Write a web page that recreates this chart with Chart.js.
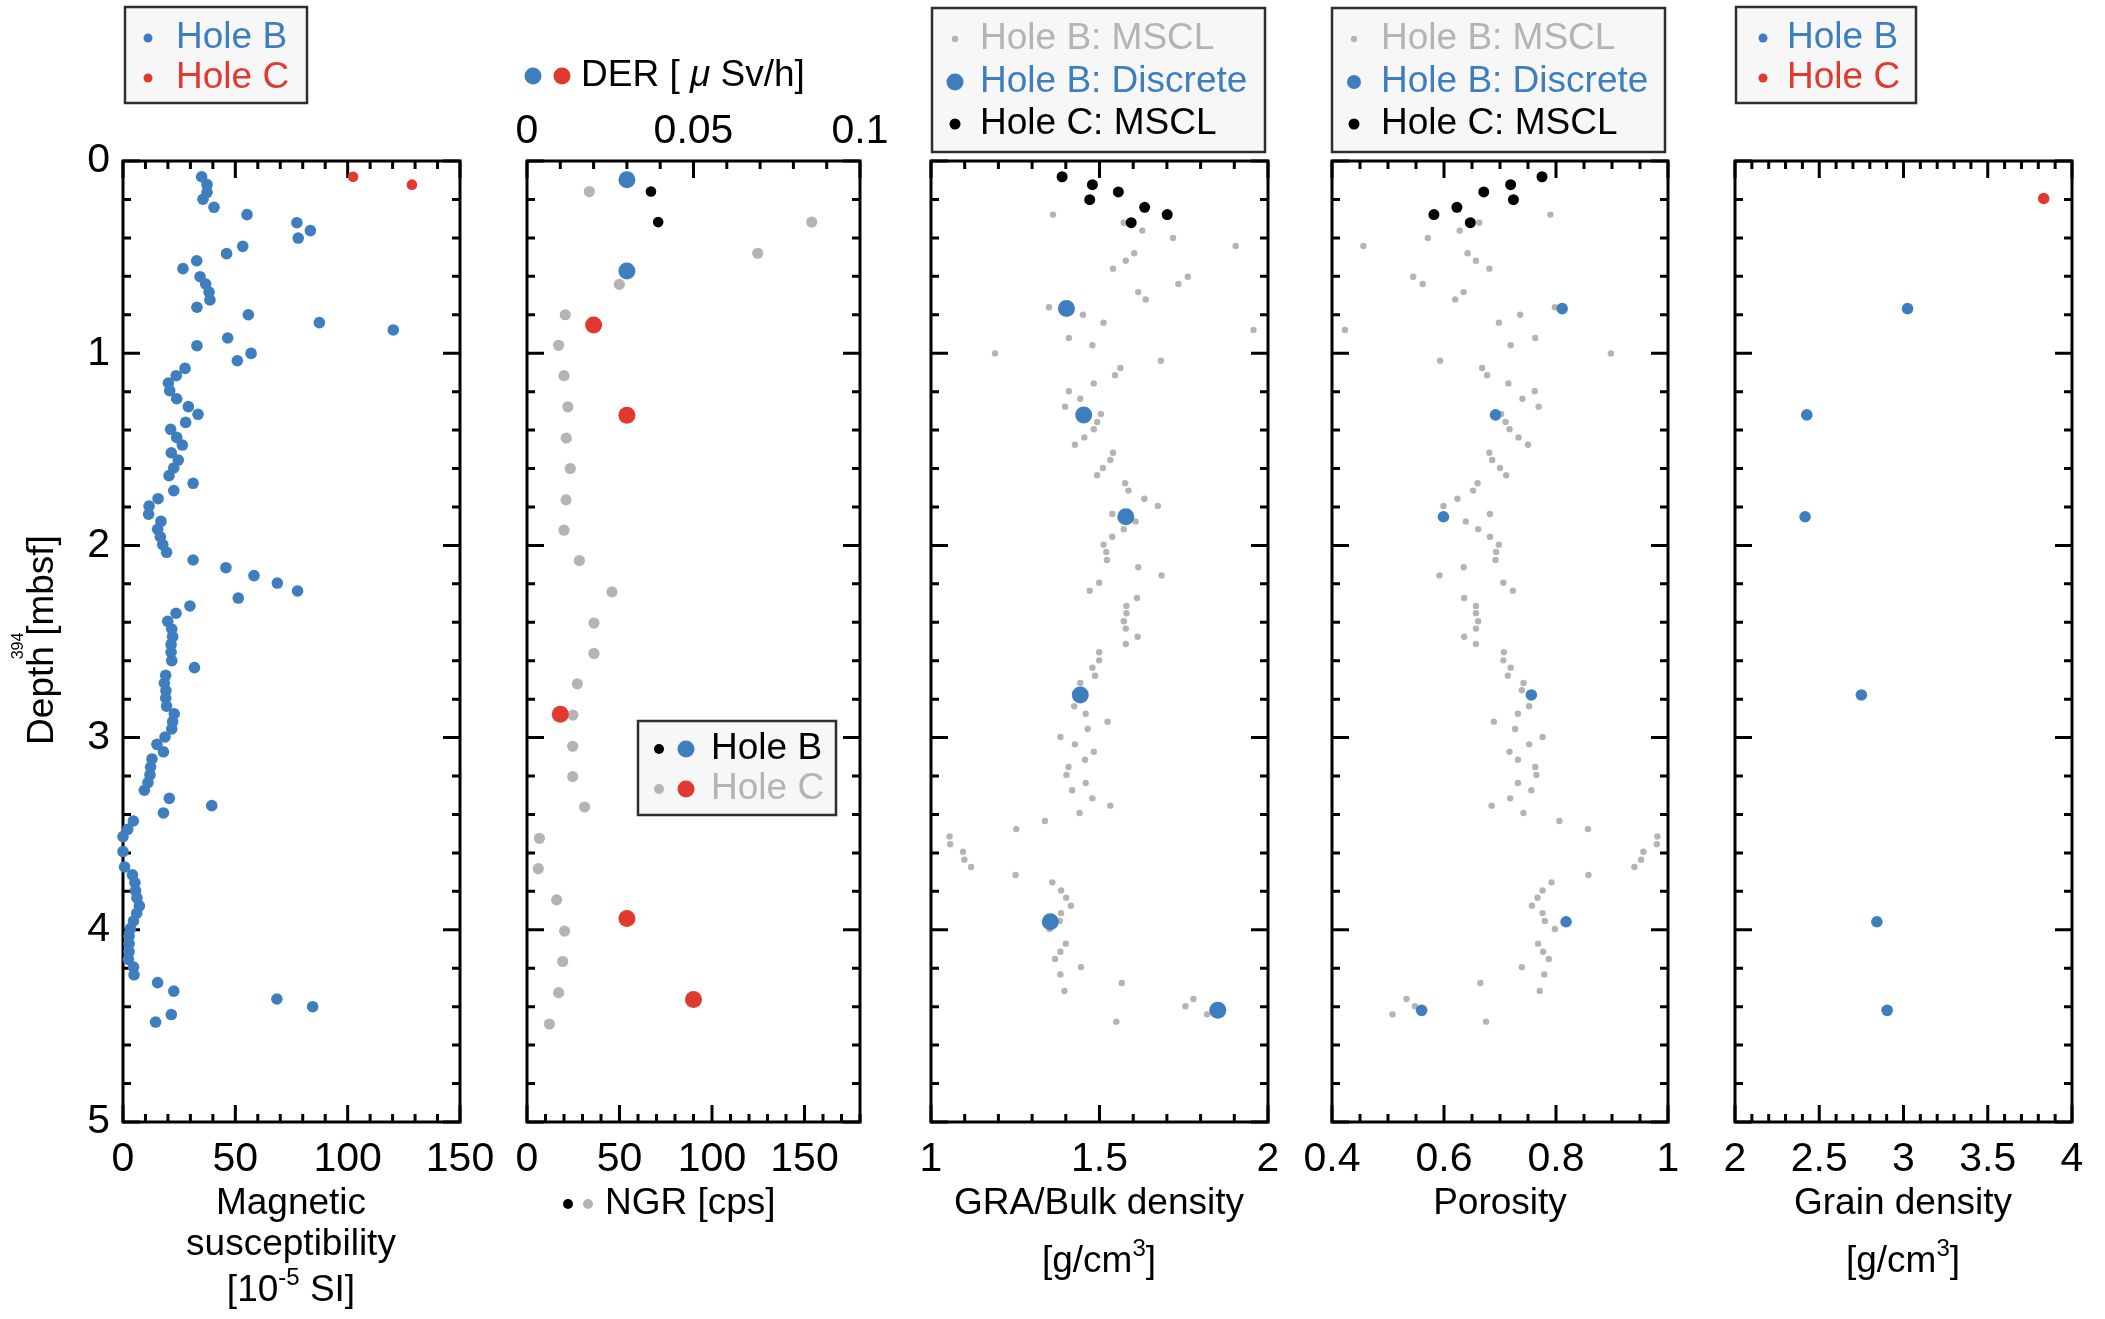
<!DOCTYPE html>
<html>
<head>
<meta charset="utf-8">
<script src="https://cdn.jsdelivr.net/npm/chart.js@4.4.1/dist/chart.umd.min.js"></script>
<style>
  html, body { margin: 0; padding: 0; background: #ffffff; }
  #wrap { position: relative; width: 2105px; height: 1319px; overflow: hidden; background: #ffffff; }
  #wrap canvas { position: absolute; left: 0; top: 0; }
</style>
</head>
<body>
<div id="wrap"></div>
<script>
// ---------- depth axis ----------
const depthTicks = [0, 1, 2, 3, 4, 5];
const depthTickLabels = ['0', '1', '2', '3', '4', '5'];

// ---------- magnetic susceptibility [1e-5 SI] ----------
const magDepthB = [0.082,0.123,0.163,0.199,0.241,0.279,0.321,0.362,0.401,0.444,
  0.482,0.519,0.560,0.602,0.640,0.682,0.723,0.761,0.800,0.841,
  0.879,0.921,0.961,1.001,1.039,1.079,1.117,1.155,1.195,1.237,
  1.278,1.318,1.360,1.396,1.438,1.478,1.518,1.556,1.597,1.637,
  1.677,1.715,1.757,1.795,1.838,1.875,1.916,1.955,1.996,2.036,
  2.076,2.116,2.157,2.196,2.237,2.274,2.315,2.353,2.395,2.435,
  2.475,2.515,2.556,2.600,2.636,2.676,2.716,2.756,2.794,2.836,
  2.876,2.917,2.955,2.997,3.035,3.074,3.111,3.153,3.194,3.234,
  3.274,3.316,3.354,3.392,3.434,3.477,3.515,3.593,3.673,3.714,
  3.754,3.796,3.834,3.875,3.914,3.954,3.994,4.032,4.072,4.114,
  4.154,4.194,4.234,4.275,4.319,4.360,4.400,4.441,4.480];
const magB = [35.0,37.4,37.4,35.6,40.5,55.2,77.4,83.4,78.0,53.3,
  46.1,32.8,26.7,34.3,36.8,38.3,38.7,32.9,55.8,87.4,
  120.3,46.6,32.9,57.0,50.9,27.6,23.7,20.2,20.8,23.9,
  29.1,33.4,27.9,21.2,23.9,26.4,21.5,24.6,22.6,20.5,
  31.2,22.6,15.6,11.6,11.4,16.9,15.4,16.6,17.7,19.4,
  31.2,45.8,58.3,68.7,77.7,51.3,29.8,23.6,19.9,21.7,
  22.1,21.4,21.4,21.7,31.8,19.0,18.4,19.1,19.0,19.4,
  22.8,22.1,21.7,18.7,15.1,18.0,12.9,12.3,12.0,11.1,
  9.5,20.6,39.5,18.0,4.6,2.1,0.0,0.0,0.7,4.2,
  5.3,5.6,6.2,7.3,6.1,4.7,3.3,2.7,2.7,2.7,
  2.4,4.7,4.9,15.4,22.6,68.5,84.4,21.5,14.5];
const magDepthC = [0.082, 0.123];
const magC = [102.4, 128.6];
const magTicks = [0, 50, 100, 150];
const magTickLabels = ['0', '50', '100', '150'];

// ---------- NGR [cps] and DER [uSv/h] ----------
const ngrDepthB = [0.159, 0.318];
const ngrB = [67.0, 70.9];
const ngrDepthC = [0.159,0.318,0.480,0.642,0.800,0.959,1.117,1.279,1.442,1.600,
  1.763,1.921,2.079,2.242,2.404,2.562,2.720,2.883,3.045,3.203,
  3.361,3.524,3.682,3.844,4.007,4.165,4.327,4.490];
const ngrC = [33.7,153.9,124.7,49.9,20.7,17.1,20.0,22.1,21.2,23.4,
  21.1,20.0,28.3,45.9,36.2,36.2,27.2,24.8,24.7,24.7,
  31.1,6.7,6.1,16.0,20.3,19.3,17.1,12.1];
const derDepthB = [0.098, 0.572];
const derB = [0.030, 0.030];
const derDepthC = [0.853, 1.323, 2.878, 3.941, 4.363];
const derC = [0.020, 0.030, 0.010, 0.030, 0.050];
const ngrTicks = [0, 50, 100, 150];
const ngrTickLabels = ['0', '50', '100', '150'];
const derTicks = [0, 0.05, 0.1];
const derTickLabels = ['0', '0.05', '0.1'];

// ---------- MSCL (Hole B) GRA density and porosity ----------
const msclDepthB = [0.279,0.321,0.362,0.401,0.442,0.480,0.519,0.560,0.602,0.640,
  0.682,0.720,0.761,0.800,0.841,0.879,0.921,0.959,1.001,1.039,
  1.077,1.115,1.157,1.198,1.237,1.278,1.316,1.358,1.396,1.438,
  1.476,1.518,1.556,1.597,1.635,1.677,1.715,1.757,1.795,1.837,
  1.875,1.916,1.955,1.996,2.034,2.076,2.114,2.156,2.194,2.236,
  2.274,2.315,2.353,2.395,2.433,2.475,2.513,2.556,2.598,2.636,
  2.678,2.716,2.754,2.837,2.876,2.917,2.955,2.997,3.035,3.074,
  3.115,3.153,3.194,3.236,3.274,3.316,3.354,3.392,3.434,3.476,
  3.514,3.555,3.594,3.635,3.673,3.715,3.753,3.795,3.833,3.875,
  3.913,3.954,3.996,4.072,4.114,4.152,4.194,4.232,4.277,4.318,
  4.360,4.398,4.440,4.478];
const graB = [1.362,1.572,1.627,1.718,1.904,1.603,1.578,1.540,1.762,1.734,
  1.615,1.637,1.350,1.451,1.512,1.957,1.409,1.479,1.190,1.682,
  1.562,1.546,1.483,1.409,1.443,1.398,1.504,1.493,1.483,1.455,
  1.427,1.540,1.532,1.510,1.493,1.576,1.586,1.633,1.673,1.538,
  1.607,1.572,1.538,1.512,1.520,1.522,1.615,1.684,1.499,1.471,
  1.611,1.580,1.580,1.572,1.578,1.613,1.578,1.499,1.499,1.479,
  1.487,1.443,1.447,1.425,1.459,1.524,1.465,1.384,1.427,1.483,
  1.457,1.408,1.402,1.459,1.419,1.479,1.532,1.441,1.338,1.253,
  1.055,1.057,1.095,1.099,1.119,1.251,1.360,1.386,1.401,1.415,
  1.386,1.382,1.352,1.400,1.384,1.368,1.445,1.384,1.566,1.396,
  1.779,1.755,1.819,1.550];
const porB = [0.790,0.663,0.628,0.571,0.456,0.642,0.657,0.681,0.545,0.562,
  0.635,0.620,0.798,0.736,0.698,0.423,0.763,0.719,0.898,0.593,
  0.668,0.677,0.715,0.762,0.740,0.769,0.702,0.710,0.717,0.733,
  0.750,0.681,0.686,0.700,0.711,0.660,0.652,0.624,0.599,0.682,
  0.639,0.661,0.682,0.698,0.693,0.692,0.635,0.592,0.706,0.723,
  0.636,0.657,0.657,0.661,0.657,0.636,0.657,0.707,0.706,0.719,
  0.714,0.742,0.739,0.752,0.732,0.689,0.727,0.776,0.752,0.717,
  0.732,0.763,0.765,0.732,0.756,0.718,0.685,0.742,0.806,0.857,
  0.981,0.980,0.956,0.952,0.940,0.858,0.792,0.776,0.767,0.757,
  0.776,0.780,0.798,0.768,0.777,0.787,0.739,0.779,0.665,0.771,
  0.533,0.548,0.508,0.675];

// ---------- MSCL (Hole C) ----------
const msclDepthC = [0.082, 0.123, 0.161, 0.201, 0.241, 0.279, 0.321];
const graC = [1.389, 1.479, 1.556, 1.471, 1.634, 1.701, 1.594];
const porC = [0.775, 0.719, 0.671, 0.724, 0.623, 0.582, 0.647];

// ---------- discrete samples (Hole B) ----------
const discDepthB = [0.768, 1.321, 1.851, 2.778, 3.958, 4.419];
const bulkDiscB = [1.402, 1.453, 1.578, 1.443, 1.354, 1.851];
const porDiscB = [0.811, 0.692, 0.599, 0.756, 0.818, 0.560];
const grainB = [3.024, 2.426, 2.416, 2.750, 2.842, 2.903];
const grainDepthC = [0.195];
const grainC = [3.832];

const densTicks = [1, 1.5, 2];
const densTickLabels = ['1', '1.5', '2'];
const porTicks = [0.4, 0.6, 0.8, 1];
const porTickLabels = ['0.4', '0.6', '0.8', '1'];
const grainTicks = [2, 2.5, 3, 3.5, 4];
const grainTickLabels = ['2', '2.5', '3', '3.5', '4'];

// ---------- styling ----------
const FONT = "'Liberation Sans', Arial, Helvetica, sans-serif";
const BLUE = '#3e7ebf';
const RED = '#e1382f';
const GREY = '#b4b4b4';
const BLACK = '#000000';
const W = 2105, H = 1319;
const PLOT_TOP = 161, PLOT_BOTTOM = 1122;
const BOTTOM_AXIS_H = 80, TOP_AXIS_H = 70, LEFT_AXIS_W = 100;

function pts(depths, values) {
  return values.map((v, i) => ({ x: v, y: depths[i] }));
}

function series(depths, values, color, radius, axisId) {
  return {
    data: pts(depths, values),
    xAxisID: axisId || 'x',
    yAxisID: 'y',
    showLine: false,
    clip: false,
    pointStyle: 'circle',
    pointRadius: radius,
    pointHoverRadius: radius,
    pointBackgroundColor: color,
    pointBorderWidth: 0,
    pointBorderColor: color
  };
}

function fixedTicks(values) {
  return scale => { scale.ticks = values.map(v => ({ value: v })); };
}

function axisX(o) {
  const top = o.position === 'top';
  return {
    type: 'linear',
    position: top ? 'top' : 'bottom',
    min: o.min,
    max: o.max,
    grid: { display: false, drawTicks: false },
    border: { display: false },
    afterBuildTicks: fixedTicks(o.ticks),
    afterFit: scale => { scale.height = top ? TOP_AXIS_H : BOTTOM_AXIS_H; },
    ticks: {
      display: true, autoSkip: false, maxRotation: 0, minRotation: 0,
      padding: o.pad, color: '#000',
      font: { family: FONT, size: 41 },
      callback: (v, i) => o.labels[i]
    }
  };
}

function axisY(show) {
  return {
    type: 'linear', reverse: true, min: 0, max: 5,
    grid: { display: false, drawTicks: false },
    border: { display: false },
    afterBuildTicks: fixedTicks(depthTicks),
    afterFit: scale => { scale.width = show ? LEFT_AXIS_W : 0; },
    ticks: {
      display: show, autoSkip: false, padding: 13, color: '#000',
      font: { family: FONT, size: 41 },
      callback: (v, i) => depthTickLabels[i]
    }
  };
}

// frame with inward major/minor ticks on all four sides
function framePlugin(spec) {
  return {
    id: 'frame',
    beforeDatasetsDraw(chart) {
      const ctx = chart.ctx, a = chart.chartArea, ys = chart.scales.y;
      ctx.save();
      ctx.strokeStyle = '#000';
      ctx.lineWidth = 3;
      ctx.lineCap = 'butt';
      ctx.beginPath();
      for (let k = 0; k <= 25; k++) {
        const py = ys.getPixelForValue(k * 0.2);
        const len = k % 5 === 0 ? 17 : 8;
        ctx.moveTo(a.left, py); ctx.lineTo(a.left + len, py);
        ctx.moveTo(a.right, py); ctx.lineTo(a.right - len, py);
      }
      const sides = [[spec.bottom, a.bottom, -1], [spec.top, a.top, 1]];
      sides.forEach(([s, edge, dir]) => {
        const sc = chart.scales[s.id];
        const n = Math.round((s.max - s.min) / s.minor);
        for (let k = 0; k <= n; k++) {
          const v = s.min + k * s.minor;
          const q = v / s.major;
          const major = Math.abs(q - Math.round(q)) < 1e-6;
          const px = sc.getPixelForValue(v);
          ctx.moveTo(px, edge); ctx.lineTo(px, edge + dir * (major ? 17 : 8));
        }
      });
      ctx.stroke();
      ctx.strokeRect(a.left, a.top, a.right - a.left, a.bottom - a.top);
      ctx.restore();
    }
  };
}

function decoPlugin(draw) {
  return { id: 'deco', afterDraw(chart) { const ctx = chart.ctx; ctx.save(); draw(ctx); ctx.restore(); } };
}

// ---------- drawing helpers for legends and titles ----------
function dot(ctx, x, y, r, color) {
  ctx.beginPath(); ctx.arc(x, y, r, 0, Math.PI * 2); ctx.fillStyle = color; ctx.fill();
}
function box(ctx, x, y, w, h) {
  ctx.fillStyle = '#f7f7f7'; ctx.fillRect(x, y, w, h);
  ctx.strokeStyle = '#2e2e2e'; ctx.lineWidth = 2.5; ctx.strokeRect(x, y, w, h);
}
function runs(ctx, parts, x, y, align, color) {
  ctx.textBaseline = 'middle'; ctx.textAlign = 'left'; ctx.fillStyle = color || '#000';
  const fontOf = p => (p.italic ? 'italic ' : '') + (p.size || 37) + 'px ' + FONT;
  let total = 0;
  parts.forEach(p => { ctx.font = fontOf(p); total += ctx.measureText(p.t).width; });
  let cx = align === 'center' ? x - total / 2 : x;
  parts.forEach(p => {
    ctx.font = fontOf(p);
    ctx.fillText(p.t, cx, y + (p.dy || 0));
    cx += ctx.measureText(p.t).width;
  });
}
function txt(ctx, s, x, y, align, color) { runs(ctx, [{ t: s }], x, y, align, color); }

// ---------- build the five panels ----------
const wrap = document.getElementById('wrap');
function makeChart(geom, datasets, scales, spec, draw) {
  const cv = document.createElement('canvas');
  cv.width = W; cv.height = H;
  cv.style.width = W + 'px'; cv.style.height = H + 'px';
  wrap.appendChild(cv);
  const leftW = geom.leftAxis ? LEFT_AXIS_W : 0;
  const topH = geom.topAxis ? TOP_AXIS_H : 0;
  return new Chart(cv, {
    type: 'scatter',
    data: { datasets },
    options: {
      responsive: false, animation: false, devicePixelRatio: 1, events: [],
      layout: { padding: {
        left: geom.left - leftW,
        right: W - geom.right,
        top: PLOT_TOP - topH,
        bottom: H - PLOT_BOTTOM - BOTTOM_AXIS_H } },
      plugins: { legend: { display: false }, tooltip: { enabled: false } },
      scales
    },
    plugins: [framePlugin(spec), decoPlugin(draw)]
  });
}

// Panel 1: magnetic susceptibility
makeChart({ left: 123, right: 460, leftAxis: true },
  [series(magDepthC, magC, RED, 5.3), series(magDepthB, magB, BLUE, 5.8)],
  { x: axisX({ min: 0, max: 150, ticks: magTicks, labels: magTickLabels, pad: 13 }), y: axisY(true) },
  { bottom: { id: 'x', min: 0, max: 150, minor: 10, major: 50 }, top: { id: 'x', min: 0, max: 150, minor: 10, major: 50 } },
  ctx => {
    box(ctx, 125, 7, 182, 96);
    dot(ctx, 148, 38, 4.5, BLUE); txt(ctx, 'Hole B', 176, 38, 'left', BLUE);
    dot(ctx, 148, 78, 4.5, RED); txt(ctx, 'Hole C', 176, 78, 'left', RED);
    txt(ctx, 'Magnetic', 291, 1204, 'center');
    txt(ctx, 'susceptibility', 291, 1245, 'center');
    runs(ctx, [{ t: '[10' }, { t: '-5', size: 24, dy: -13 }, { t: ' SI]' }], 291, 1291, 'center');
    // depth axis title
    ctx.save();
    ctx.translate(43, 640); ctx.rotate(-Math.PI / 2);
    txt(ctx, 'Depth [mbsf]', 0, 0, 'center');
    ctx.restore();
    ctx.save();
    ctx.translate(19, 646); ctx.rotate(-Math.PI / 2);
    runs(ctx, [{ t: '394', size: 16 }], 0, 0, 'center');
    ctx.restore();
  });

// Panel 2: NGR (bottom axis) and DER (top axis)
makeChart({ left: 527, right: 860, topAxis: true },
  [series(derDepthC, derC, RED, 8.5, 'x2'), series(derDepthB, derB, BLUE, 8.5, 'x2'),
   series(ngrDepthB, ngrB, BLACK, 5.3), series(ngrDepthC, ngrC, GREY, 5.6)],
  { x: axisX({ min: 0, max: 180, ticks: ngrTicks, labels: ngrTickLabels, pad: 13 }),
    x2: axisX({ min: 0, max: 0.1, ticks: derTicks, labels: derTickLabels, pad: 5, position: 'top' }),
    y: axisY(false) },
  { bottom: { id: 'x', min: 0, max: 180, minor: 10, major: 50 }, top: { id: 'x2', min: 0, max: 0.1, minor: 0.01, major: 0.05 } },
  ctx => {
    dot(ctx, 533, 76, 8.5, BLUE); dot(ctx, 562, 76, 8.5, RED);
    runs(ctx, [{ t: 'DER [ ' }, { t: 'μ', italic: true }, { t: ' Sv/h]' }], 581, 76, 'left');
    dot(ctx, 568, 1204, 5, BLACK); dot(ctx, 588, 1204, 5, GREY);
    txt(ctx, 'NGR [cps]', 605, 1204, 'left');
    box(ctx, 638, 721, 198, 94);
    dot(ctx, 659, 749, 5, BLACK); dot(ctx, 686, 749, 8.5, BLUE); txt(ctx, 'Hole B', 711, 749, 'left', BLACK);
    dot(ctx, 659, 789, 5, GREY); dot(ctx, 686, 789, 8.5, RED); txt(ctx, 'Hole C', 711, 789, 'left', GREY);
  });

// Panel 3: GRA / bulk density
makeChart({ left: 931, right: 1268 },
  [series(msclDepthC, graC, BLACK, 5.5), series(discDepthB, bulkDiscB, BLUE, 8.5), series(msclDepthB, graB, GREY, 3.2)],
  { x: axisX({ min: 1, max: 2, ticks: densTicks, labels: densTickLabels, pad: 13 }), y: axisY(false) },
  { bottom: { id: 'x', min: 1, max: 2, minor: 0.1, major: 0.5 }, top: { id: 'x', min: 1, max: 2, minor: 0.1, major: 0.5 } },
  ctx => {
    box(ctx, 932, 8, 333, 144);
    dot(ctx, 955, 39, 3.2, GREY); txt(ctx, 'Hole B: MSCL', 980, 39, 'left', GREY);
    dot(ctx, 955, 82, 8.5, BLUE); txt(ctx, 'Hole B: Discrete', 980, 82, 'left', BLUE);
    dot(ctx, 955, 124, 5.5, BLACK); txt(ctx, 'Hole C: MSCL', 980, 124, 'left', BLACK);
    txt(ctx, 'GRA/Bulk density', 1099, 1204, 'center');
    runs(ctx, [{ t: '[g/cm' }, { t: '3', size: 24, dy: -13 }, { t: ']' }], 1099, 1262, 'center');
  });

// Panel 4: porosity
makeChart({ left: 1332, right: 1668 },
  [series(msclDepthC, porC, BLACK, 5.5), series(discDepthB, porDiscB, BLUE, 5.8), series(msclDepthB, porB, GREY, 3.2)],
  { x: axisX({ min: 0.4, max: 1, ticks: porTicks, labels: porTickLabels, pad: 13 }), y: axisY(false) },
  { bottom: { id: 'x', min: 0.4, max: 1, minor: 0.05, major: 0.2 }, top: { id: 'x', min: 0.4, max: 1, minor: 0.05, major: 0.2 } },
  ctx => {
    box(ctx, 1332, 8, 333, 144);
    dot(ctx, 1354, 39, 3.2, GREY); txt(ctx, 'Hole B: MSCL', 1381, 39, 'left', GREY);
    dot(ctx, 1354, 82, 7, BLUE); txt(ctx, 'Hole B: Discrete', 1381, 82, 'left', BLUE);
    dot(ctx, 1354, 124, 5.5, BLACK); txt(ctx, 'Hole C: MSCL', 1381, 124, 'left', BLACK);
    txt(ctx, 'Porosity', 1500, 1204, 'center');
  });

// Panel 5: grain density
makeChart({ left: 1735, right: 2072 },
  [series(grainDepthC, grainC, RED, 5.8), series(discDepthB, grainB, BLUE, 5.8)],
  { x: axisX({ min: 2, max: 4, ticks: grainTicks, labels: grainTickLabels, pad: 13 }), y: axisY(false) },
  { bottom: { id: 'x', min: 2, max: 4, minor: 0.1, major: 0.5 }, top: { id: 'x', min: 2, max: 4, minor: 0.1, major: 0.5 } },
  ctx => {
    box(ctx, 1736, 7, 180, 96);
    dot(ctx, 1763, 38, 4.5, BLUE); txt(ctx, 'Hole B', 1787, 38, 'left', BLUE);
    dot(ctx, 1763, 78, 4.5, RED); txt(ctx, 'Hole C', 1787, 78, 'left', RED);
    txt(ctx, 'Grain density', 1903, 1204, 'center');
    runs(ctx, [{ t: '[g/cm' }, { t: '3', size: 24, dy: -13 }, { t: ']' }], 1903, 1262, 'center');
  });
</script>
</body>
</html>
